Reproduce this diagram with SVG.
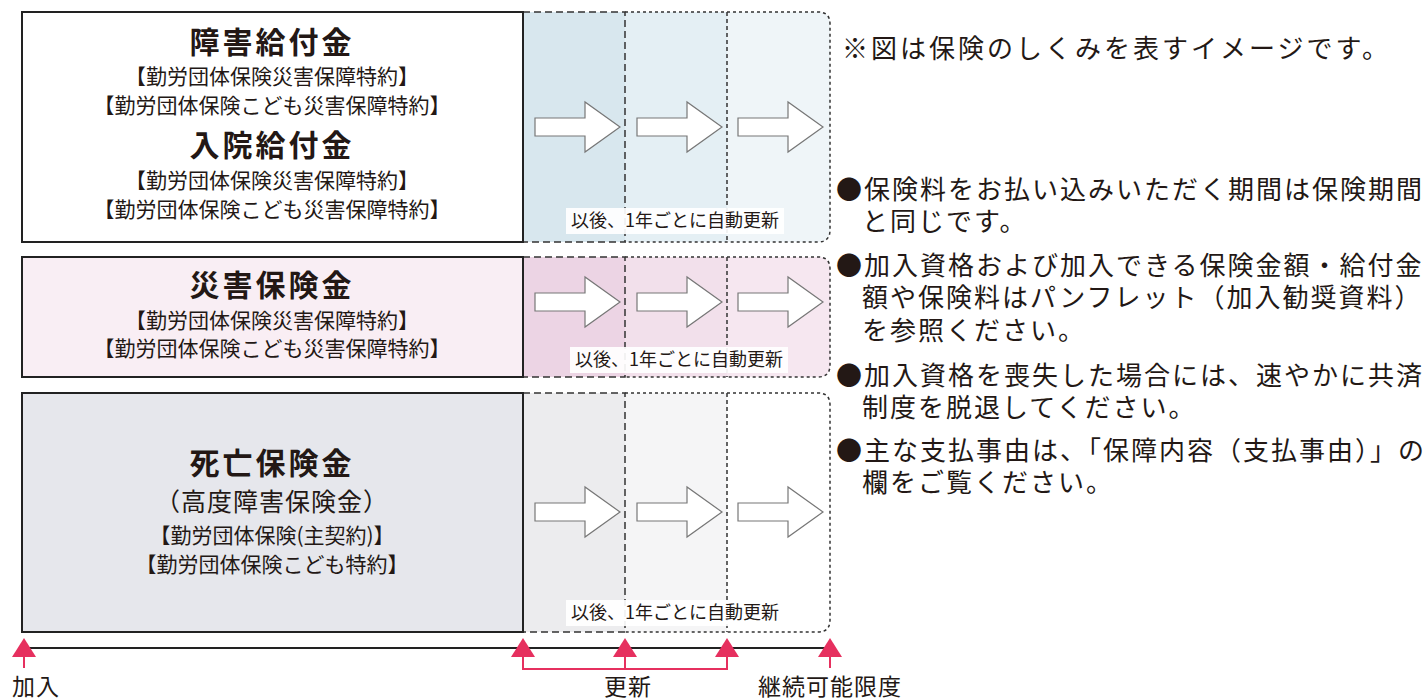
<svg xmlns="http://www.w3.org/2000/svg" xmlns:xlink="http://www.w3.org/1999/xlink" width="1425" height="700" viewBox="0 0 1425 700">
<defs>
<style>
text{font-family:"Noto Sans CJK JP","Noto Sans",sans-serif;fill:#231815}
.title{font-size:30px;font-weight:700;text-anchor:middle;letter-spacing:3px}
.sub{font-size:21px;font-weight:400;text-anchor:middle}
.paren{font-size:25px;font-weight:400;text-anchor:middle;letter-spacing:1px}
.lbl{font-size:18px;text-anchor:middle}
.note{font-size:26px;font-weight:400;letter-spacing:2px}
.axis{font-size:23px;letter-spacing:1px}
.box{stroke:#222;stroke-width:2}
.d1{fill:none;stroke:#333;stroke-width:1.5;stroke-dasharray:7 4}
.d2{fill:none;stroke:#333;stroke-width:1.5;stroke-dasharray:3 3}
.d3{fill:none;stroke:#333;stroke-width:1.5;stroke-dasharray:4 3}
.arr{fill:#fff;stroke:#777;stroke-width:1.2}
.lblbg{fill:#fff;opacity:0.92}
.red{fill:#e6305f}
.redl{fill:none;stroke:#e6305f;stroke-width:2}
</style>
<path id="arrow" d="M0,-9 H50 V-25 L85,0 L50,25 V9 H0 Z"/>
</defs>

<g id="row1">
<rect x="523" y="12" width="102" height="230" fill="#d8e7ee"/>
<rect x="625" y="12" width="102" height="230" fill="#e4eff4"/>
<path d="M727,12 H818 Q830,12 830,24 V230 Q830,242 818,242 H727 Z" fill="#eff5f8"/>
<path class="d1" d="M523,12 H625 V242 H523"/>
<path class="d2" d="M625,12 H818 Q830,12 830,24 V230 Q830,242 818,242 H625"/>
<line class="d3" x1="727" y1="12" x2="727" y2="242"/>
<rect class="box" x="22" y="12" width="501" height="230" fill="#fff"/>
<text class="title" x="272" y="53">障害給付金</text>
<text class="sub" x="272" y="84">【勤労団体保険災害保障特約】</text>
<text class="sub" x="272" y="113">【勤労団体保険こども災害保障特約】</text>
<text class="title" x="272" y="156">入院給付金</text>
<text class="sub" x="272" y="188">【勤労団体保険災害保障特約】</text>
<text class="sub" x="272" y="217">【勤労団体保険こども災害保障特約】</text>
<use xlink:href="#arrow" href="#arrow" class="arr" x="535" y="127"/>
<use xlink:href="#arrow" href="#arrow" class="arr" x="637" y="127"/>
<use xlink:href="#arrow" href="#arrow" class="arr" x="738" y="127"/>
<rect class="lblbg" x="566" y="208" width="218" height="26"/>
<text class="lbl" x="675" y="227">以後、1年ごとに自動更新</text>
</g>

<g id="row2">
<rect x="523" y="257" width="102" height="120" fill="#ecd4e4"/>
<rect x="625" y="257" width="102" height="120" fill="#f2e0eb"/>
<path d="M727,257 H818 Q830,257 830,269 V365 Q830,377 818,377 H727 Z" fill="#f6e7f0"/>
<path class="d1" d="M523,257 H625 V377 H523"/>
<path class="d2" d="M625,257 H818 Q830,257 830,269 V365 Q830,377 818,377 H625"/>
<line class="d3" x1="727" y1="257" x2="727" y2="377"/>
<rect class="box" x="22" y="257" width="501" height="120" fill="#f9eef4"/>
<text class="title" x="272" y="296">災害保険金</text>
<text class="sub" x="272" y="328">【勤労団体保険災害保障特約】</text>
<text class="sub" x="272" y="356">【勤労団体保険こども災害保障特約】</text>
<use xlink:href="#arrow" href="#arrow" class="arr" x="535" y="302"/>
<use xlink:href="#arrow" href="#arrow" class="arr" x="637" y="302"/>
<use xlink:href="#arrow" href="#arrow" class="arr" x="738" y="302"/>
<rect class="lblbg" x="570" y="347" width="218" height="26"/>
<text class="lbl" x="679" y="366">以後、1年ごとに自動更新</text>
</g>

<g id="row3">
<rect x="523" y="393" width="102" height="239" fill="#ececee"/>
<rect x="625" y="393" width="102" height="239" fill="#f5f5f6"/>
<path d="M727,393 H818 Q830,393 830,405 V620 Q830,632 818,632 H727 Z" fill="#fff"/>
<path class="d1" d="M523,393 H625 V632 H523"/>
<path class="d2" d="M625,393 H818 Q830,393 830,405 V620 Q830,632 818,632 H625"/>
<line class="d3" x1="727" y1="393" x2="727" y2="632"/>
<rect class="box" x="22" y="393" width="501" height="239" fill="#e6e7ec"/>
<text class="title" x="272" y="474">死亡保険金</text>
<text class="paren" x="272" y="511">（高度障害保険金）</text>
<text class="sub" x="272" y="543">【勤労団体保険(主契約)】</text>
<text class="sub" x="272" y="572">【勤労団体保険こども特約】</text>
<use xlink:href="#arrow" href="#arrow" class="arr" x="535" y="512"/>
<use xlink:href="#arrow" href="#arrow" class="arr" x="637" y="512"/>
<use xlink:href="#arrow" href="#arrow" class="arr" x="738" y="512"/>
<rect class="lblbg" x="566" y="600" width="218" height="26"/>
<text class="lbl" x="675" y="619">以後、1年ごとに自動更新</text>
</g>

<g id="connectors">
<line x1="24" y1="648" x2="830" y2="648" stroke="#222" stroke-width="2"/>
<path class="redl" d="M24,655 V668 M830,655 V668 M523,655 V669 H727 V655 M625,655 V669"/>
<polygon class="red" points="24,638 12,657 36,657"/>
<polygon class="red" points="523,638 511,657 535,657"/>
<polygon class="red" points="625,638 613,657 637,657"/>
<polygon class="red" points="727,638 715,657 739,657"/>
<polygon class="red" points="830,638 818,657 842,657"/>
</g>

<g id="axis-labels">
<text class="axis" x="12" y="695">加入</text>
<text class="axis" x="628" y="695" text-anchor="middle">更新</text>
<text class="axis" x="830" y="695" text-anchor="middle">継続可能限度</text>
</g>

<g id="notes">
<text class="note" x="842" y="58" style="letter-spacing:3px">※図は保険のしくみを表すイメージです。</text>
<text class="note" x="836" y="199">●保険料をお払い込みいただく期間は保険期間</text>
<text class="note" x="862" y="231">と同じです。</text>
<text class="note" x="836" y="275">●加入資格および加入できる保険金額・給付金</text>
<text class="note" x="862" y="307">額や保険料はパンフレット（加入勧奨資料）</text>
<text class="note" x="862" y="340">を参照ください。</text>
<text class="note" x="836" y="385">●加入資格を喪失した場合には、速やかに共済</text>
<text class="note" x="862" y="417">制度を脱退してください。</text>
<text class="note" x="836" y="460">●主な支払事由は、「保障内容（支払事由）」の</text>
<text class="note" x="862" y="492">欄をご覧ください。</text>
</g>
</svg>
